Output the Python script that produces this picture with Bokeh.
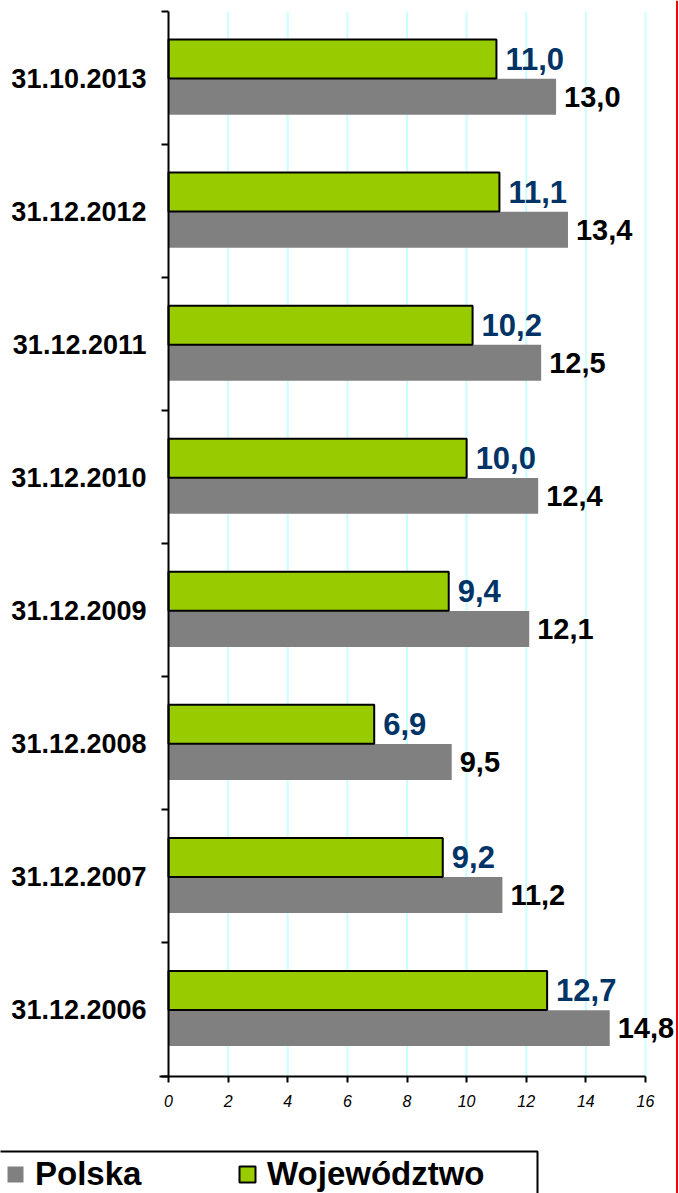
from bokeh.plotting import figure
from bokeh.models import (Range1d, LinearAxis, FixedTicker, Span, Legend,
                          LegendItem, ColumnDataSource, BoxAnnotation)
from bokeh.core.properties import value
from bokeh.embed import file_html
from bokeh.resources import INLINE

# ---- data (bottom to top) ----
dates = ["31.12.2006", "31.12.2007", "31.12.2008", "31.12.2009",
         "31.12.2010", "31.12.2011", "31.12.2012", "31.10.2013"]
polska = [14.8, 11.2, 9.5, 12.1, 12.4, 12.5, 13.4, 13.0]
wojewodztwo = [12.7, 9.2, 6.9, 9.4, 10.0, 10.2, 11.1, 11.0]
x_ticks = [0, 2, 4, 6, 8, 10, 12, 14, 16]

FONT = "Liberation Sans"
W, H = 679, 1193
X0PX, PXU = 168.0, 29.8125      # pixel of x=0, pixels per unit
Y0PX, BAND = 1075.5, 133.06     # pixel of y=0 (axis), pixels per category band


def px2x(px):
    return (px - X0PX) / PXU


def px2y(py):
    return (Y0PX - py) / BAND


p = figure(width=W, height=H,
           x_range=Range1d(px2x(0), px2x(W)),
           y_range=Range1d(px2y(H), px2y(0)),
           output_backend="svg", toolbar_location=None, min_border=0,
           x_axis_type=None, y_axis_type=None)
p.outline_line_color = None
p.background_fill_color = "white"
p.border_fill_color = "white"

n = len(dates)
idx = list(range(n))
src = ColumnDataSource(dict(
    y_pl=[i + 0.36 for i in idx],
    y_wo=[i + 0.643 for i in idx],
    polska=polska,
    woj=wojewodztwo,
    lab_pl=[f"{v:.1f}".replace(".", ",") for v in polska],
    lab_wo=[f"{v:.1f}".replace(".", ",") for v in wojewodztwo],
))

# vertical grid lines
grid_x = x_ticks[1:]
p.segment(x0=grid_x, y0=[0] * len(grid_x), x1=grid_x, y1=[n] * len(grid_x),
          line_color="#ccffff", line_width=2)

grey = p.hbar(y="y_pl", right="polska", left=0, height=0.27, source=src,
              fill_color="#808080", line_color=None)
green = p.hbar(y="y_wo", right="woj", left=0, height=0.293, source=src,
               fill_color="#99cc00", line_color="black", line_width=2)

p.text(x="woj", y="y_wo", text="lab_wo", source=src, x_offset=9,
       text_baseline="middle", text_align="left", text_font=value(FONT),
       text_font_style="bold", text_font_size="31px", text_color="#003366")
p.text(x="polska", y="y_pl", text="lab_pl", source=src, x_offset=8,
       text_baseline="middle", text_align="left", text_font=value(FONT),
       text_font_style="bold", text_font_size="29px", text_color="black")

# y axis (category labels centred in bands, ticks at band boundaries)
yaxis = LinearAxis(
    fixed_location=0,
    ticker=FixedTicker(ticks=[i + 0.5 for i in idx], minor_ticks=list(range(n + 1))),
    bounds=(0, n),
    major_label_overrides={i + 0.5: d for i, d in zip(idx, dates)},
    major_tick_out=0, major_tick_in=0,
    minor_tick_out=7, minor_tick_in=0,
    axis_line_width=2, axis_line_color="black",
    minor_tick_line_width=2, minor_tick_line_color="black",
    major_label_standoff=15,
    major_label_text_font=FONT, major_label_text_font_style="bold",
    major_label_text_font_size="27px", major_label_text_color="black",
)
p.add_layout(yaxis, "left")

xaxis = LinearAxis(
    fixed_location=0,
    ticker=FixedTicker(ticks=x_ticks),
    bounds=(-0.3, x_ticks[-1]),
    major_tick_out=6, major_tick_in=0,
    minor_tick_out=0, minor_tick_in=0,
    axis_line_width=2, axis_line_color="black",
    major_tick_line_width=2, major_tick_line_color="black",
    major_label_standoff=13,
    major_label_text_font=FONT, major_label_text_font_style="italic",
    major_label_text_font_size="16px", major_label_text_color="black",
)
p.add_layout(xaxis, "below")

p.add_layout(Span(location=px2x(676.5), dimension="height",
                  line_color="red", line_width=2))

# legend frame
p.add_layout(BoxAnnotation(left=px2x(-6), right=px2x(537), top=px2y(1151),
                           bottom=px2y(1210), fill_color="white", fill_alpha=1,
                           line_color="black", line_width=2, line_alpha=1))

legend = Legend(
    items=[LegendItem(label="Polska", renderers=[grey]),
           LegendItem(label="Województwo", renderers=[green])],
    orientation="horizontal", location=(5, 0),
    padding=6, spacing=0, label_width=202, label_standoff=10,
    glyph_width=20, glyph_height=20,
    label_text_font=FONT, label_text_font_style="bold",
    label_text_font_size="33px", label_text_color="black",
    border_line_color=None, background_fill_alpha=0, margin=0,
)
p.add_layout(legend, "center")

open("out.html", "w").write(file_html(p, INLINE))
